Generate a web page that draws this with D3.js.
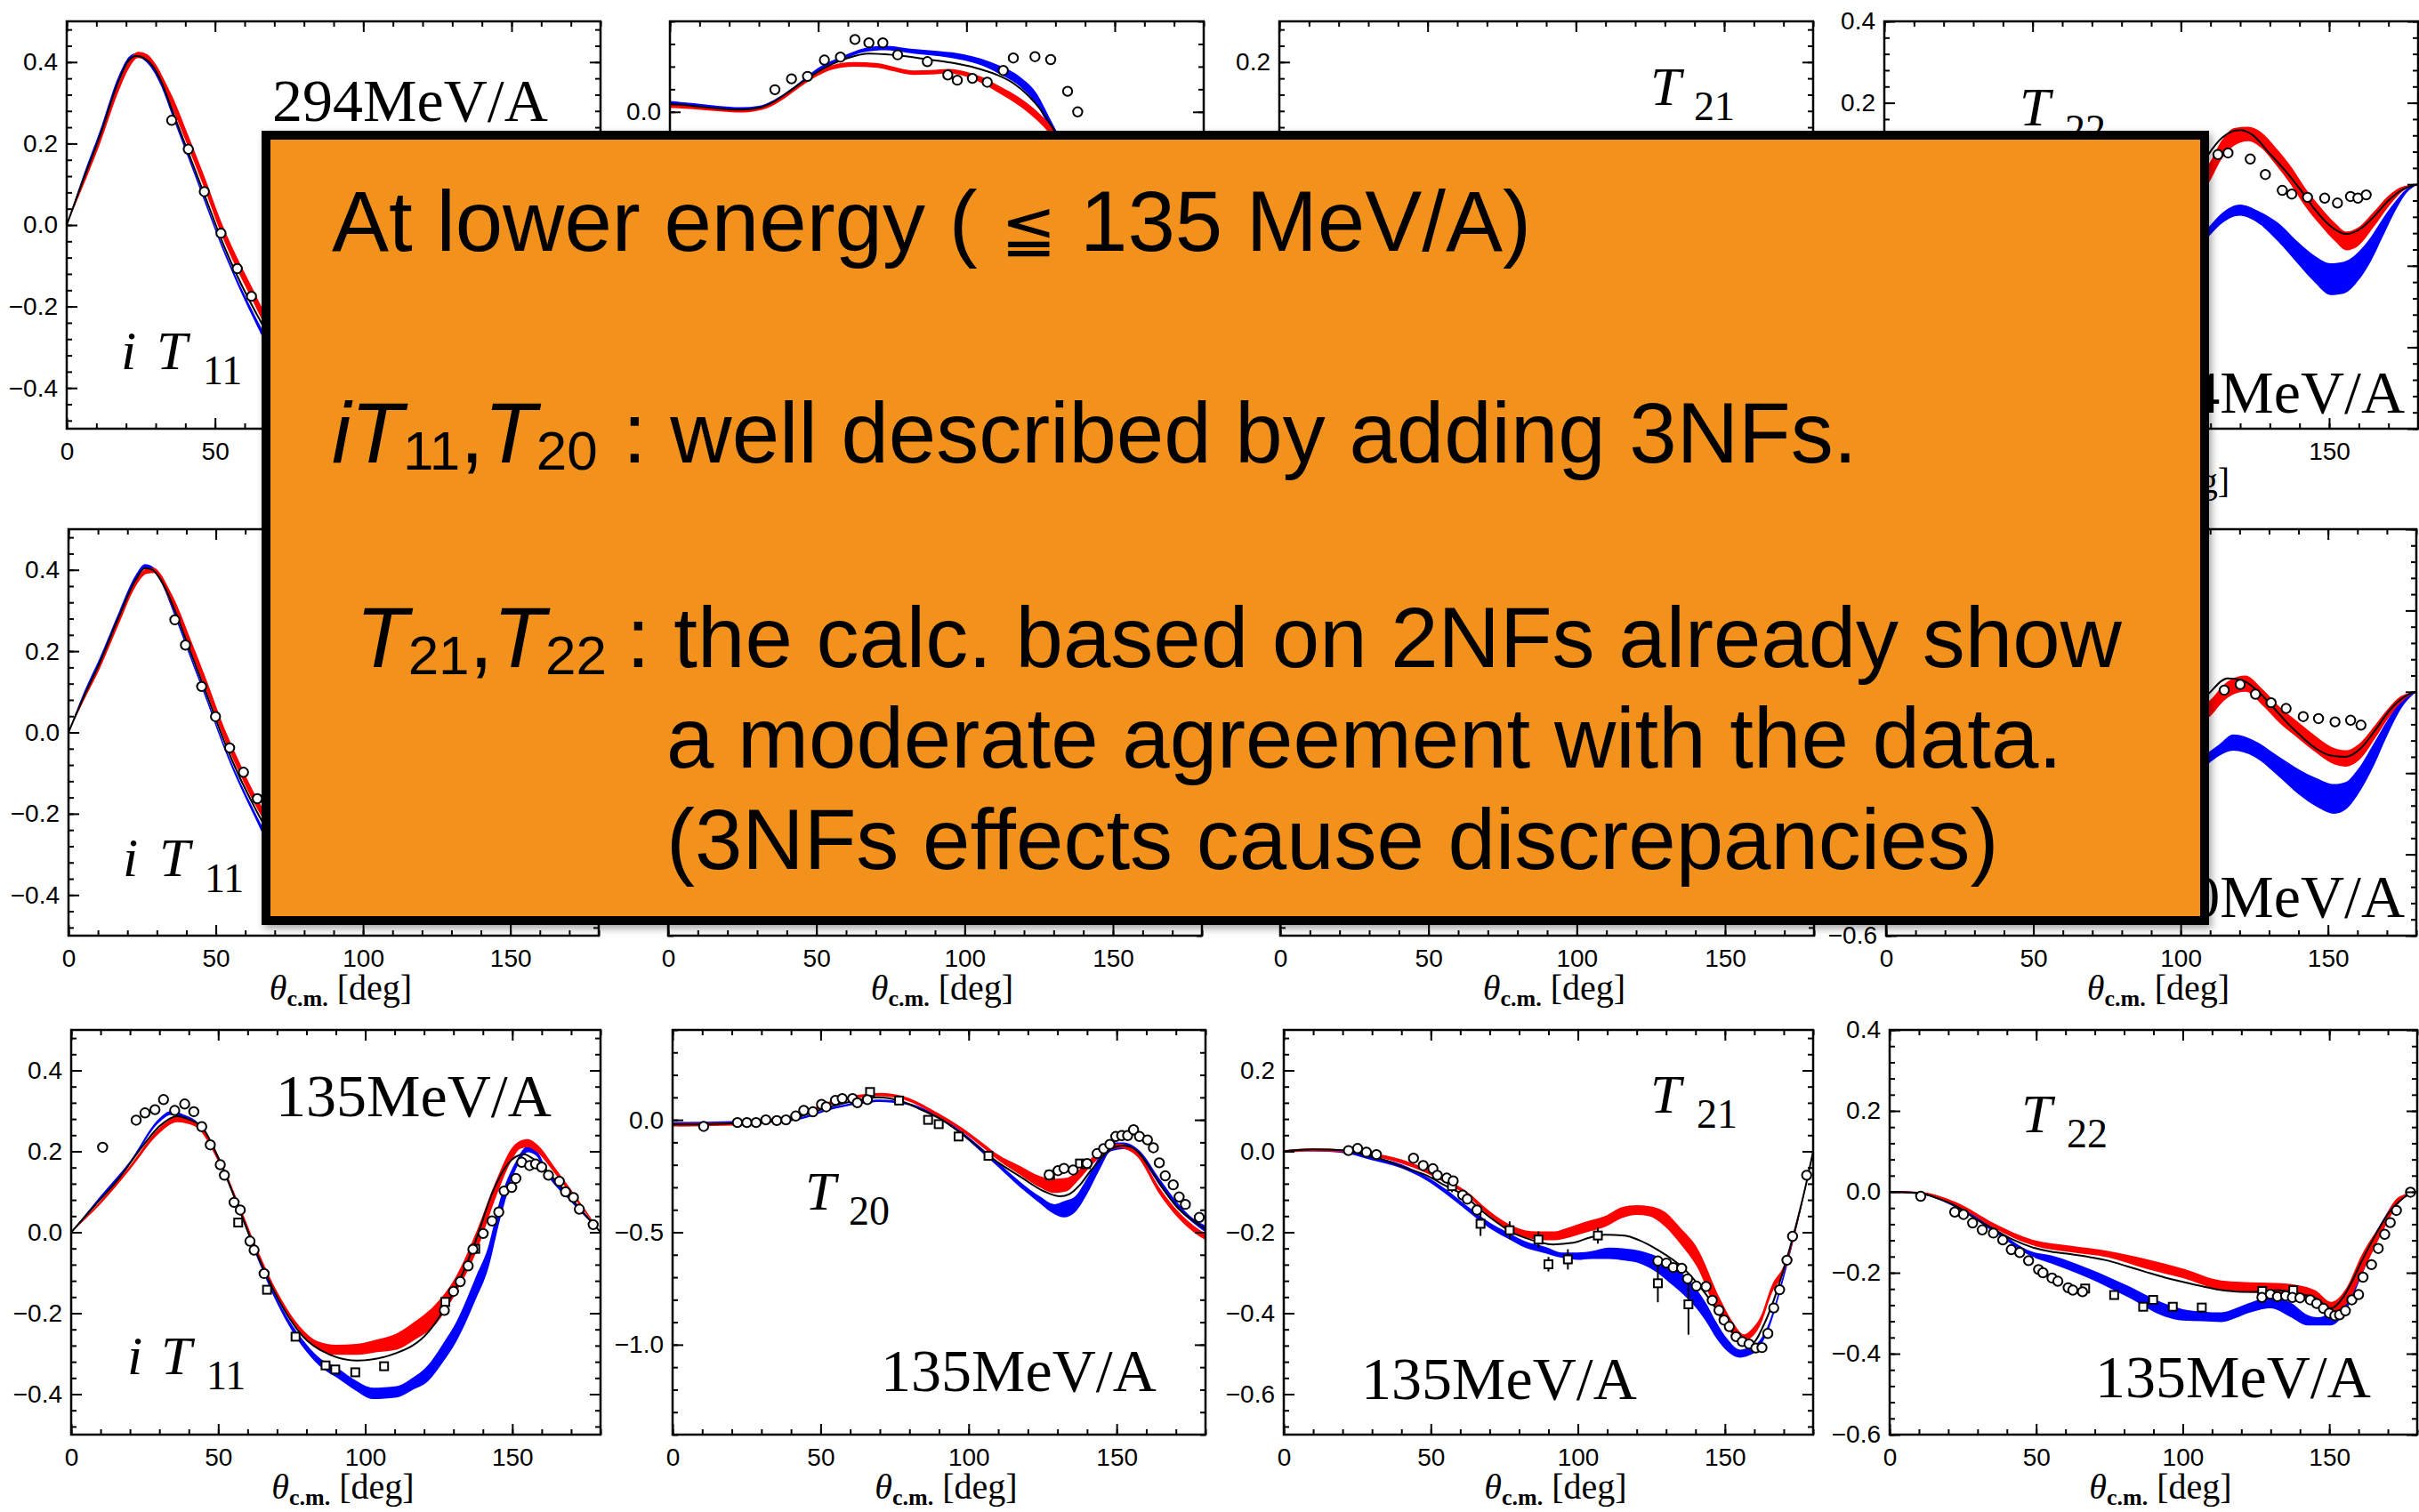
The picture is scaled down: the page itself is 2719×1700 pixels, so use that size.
<!DOCTYPE html>
<html>
<head>
<meta charset="utf-8">
<script src="https://cdnjs.cloudflare.com/ajax/libs/d3/7.8.5/d3.min.js"></script>
<style>
  body { margin: 0; background: #fff; }
  svg { display: block; }
</style>
</head>
<body>
<svg id="fig" width="2719" height="1700"></svg>
<script>
// ---- data: [theta, value] for lines/points, [theta, lo, hi] for bands, [theta, value, err] for squares ----

// 294 MeV/A
var it11_294_nn = [[0,0],[5.5,0.11],[11,0.215],[17.6,0.355],[21,0.405],[23.5,0.415],[26,0.41],[29,0.39],[32,0.35],[35.4,0.285],[38,0.235],[41,0.178],[46.4,0.075],[50,0.005],[52,-0.033],[57.5,-0.125],[62.3,-0.195],[66,-0.245],[70,-0.3],[75,-0.35]];
var it11_294_red = [[0,0,0],[5.5,0.095,0.108],[11,0.195,0.212],[17.6,0.33,0.35],[21,0.385,0.402],[24,0.41,0.425],[27,0.405,0.42],[30,0.375,0.395],[33,0.33,0.355],[36,0.28,0.31],[41,0.19,0.22],[46.4,0.09,0.12],[52,-0.02,0.01],[57.5,-0.11,-0.08],[62.3,-0.18,-0.15],[66,-0.235,-0.205],[70,-0.29,-0.26],[75,-0.34,-0.31]];
var it11_294_blue = [[0,0,0],[5.5,0.11,0.12],[11,0.215,0.228],[17.6,0.355,0.368],[21,0.403,0.413],[23.5,0.412,0.422],[26,0.405,0.414],[29,0.38,0.39],[32,0.338,0.348],[35.4,0.272,0.282],[41,0.163,0.173],[46.4,0.058,0.068],[52,-0.05,-0.04],[57.5,-0.145,-0.133],[62.3,-0.22,-0.205],[66,-0.275,-0.258],[70,-0.33,-0.31],[75,-0.38,-0.36]];
var it11_294_circ = [[35.4,0.257],[41,0.186],[46.4,0.082],[52,-0.02],[57.5,-0.107],[62.3,-0.175]];

var t20_294_nn = [[0,0.035],[8,0.026],[16,0.015],[24,0.01],[30,0.018],[35,0.045],[40,0.088],[45,0.135],[50,0.178],[55,0.213],[60,0.238],[67,0.258],[75,0.252],[87,0.232],[95,0.217],[103,0.195],[110,0.165],[116,0.125],[121,0.07],[125,0.01],[129,-0.07],[133,-0.16],[137,-0.26]];
var t20_294_blue = [[0,0.032,0.048],[8,0.024,0.038],[16,0.012,0.027],[24,0.006,0.021],[30,0.012,0.027],[35,0.036,0.052],[40,0.078,0.094],[44,0.118,0.134],[50,0.178,0.195],[58,0.228,0.245],[66,0.265,0.283],[72.6,0.272,0.292],[82,0.258,0.278],[91,0.246,0.268],[99,0.228,0.255],[105,0.205,0.235],[111,0.168,0.205],[118,0.112,0.155],[124,0.025,0.075],[128,-0.075,-0.025],[132,-0.18,-0.125],[137,-0.3,-0.24]];
var t20_294_red = [[0,0.018,0.034],[8,0.012,0.027],[16,0.003,0.018],[24,-0.003,0.012],[30,0.006,0.021],[35,0.03,0.046],[40,0.072,0.088],[44,0.11,0.126],[50,0.16,0.178],[55,0.188,0.207],[62,0.2,0.22],[70,0.195,0.215],[76,0.178,0.198],[82,0.163,0.183],[88,0.165,0.185],[94,0.17,0.19],[100,0.155,0.177],[105,0.128,0.155],[111,0.083,0.115],[118,0.025,0.062],[124,-0.04,0.0],[128,-0.095,-0.055],[132,-0.165,-0.125],[137,-0.26,-0.215]];
var t20_294_circ = [[35.4,0.098],[41,0.146],[46.4,0.157],[52.1,0.229],[57.5,0.242],[62.4,0.32],[67.1,0.305],[71.8,0.305],[76.8,0.252],[86.8,0.222],[93.7,0.163],[96.9,0.14],[102,0.148],[107,0.131],[112.4,0.183],[115.8,0.238],[123.1,0.244],[128.4,0.231],[134.1,0.091],[137.5,0.0]];

var t22_294_nn = [[100,-0.035],[105,0.02],[109,0.07],[114,0.115],[119.9,0.133],[124,0.122],[130,0.075],[135,0.035],[140,-0.01],[145,-0.06],[150,-0.1],[155.8,-0.122],[160,-0.112],[165,-0.08],[170,-0.04],[175,-0.012],[180,0]];
var t22_294_red = [[100,-0.06,-0.02],[105,-0.02,0.02],[109,0.0,0.045],[114,0.065,0.11],[118,0.095,0.138],[122.7,0.106,0.141],[127,0.09,0.128],[132,0.048,0.09],[137,0.0,0.045],[142,-0.055,-0.01],[147,-0.1,-0.055],[152,-0.14,-0.095],[155.8,-0.162,-0.116],[160,-0.15,-0.105],[165,-0.105,-0.068],[170,-0.055,-0.028],[175,-0.016,-0.005],[180,0,0]];
var t22_294_blue = [[100,-0.2,-0.175],[105,-0.16,-0.138],[109,-0.131,-0.108],[114,-0.095,-0.07],[119.9,-0.077,-0.05],[126,-0.095,-0.065],[132.7,-0.14,-0.094],[140,-0.2,-0.145],[145,-0.24,-0.175],[150.5,-0.272,-0.194],[155,-0.268,-0.19],[160,-0.235,-0.165],[164,-0.19,-0.13],[168,-0.13,-0.085],[172,-0.07,-0.045],[176,-0.022,-0.012],[180,0,0]];
var t22_294_circ = [[112.5,0.073],[115.9,0.077],[123.4,0.062],[128.5,0.024],[134.2,-0.015],[137.4,-0.024],[142.7,-0.032],[148.5,-0.034],[152.8,-0.046],[157.2,-0.03],[159.7,-0.034],[162.5,-0.026]];

// 250 MeV/A
var it11_250_nn = [[0,0],[5,0.085],[10.5,0.17],[17.3,0.288],[22.7,0.374],[26,0.404],[28.5,0.4],[30.7,0.382],[33.5,0.345],[36.1,0.3],[41.5,0.196],[46.9,0.094],[52.3,-0.012],[57.7,-0.104],[63.1,-0.183],[65.8,-0.22],[70,-0.27],[75,-0.32]];
var it11_250_red = [[0,0,0],[5,0.075,0.085],[10.5,0.155,0.168],[17.3,0.27,0.285],[22.7,0.358,0.372],[26.5,0.39,0.403],[29,0.392,0.405],[31.5,0.37,0.388],[34,0.33,0.355],[36.1,0.295,0.325],[41.5,0.2,0.228],[46.9,0.1,0.128],[52.3,-0.005,0.022],[57.7,-0.095,-0.068],[63.1,-0.175,-0.15],[65.8,-0.21,-0.185],[70,-0.26,-0.235],[75,-0.31,-0.285]];
var it11_250_blue = [[0,0,0],[5,0.087,0.095],[10.5,0.172,0.182],[17.3,0.29,0.3],[22.7,0.375,0.386],[26,0.404,0.414],[28.5,0.398,0.408],[30.7,0.378,0.388],[36.1,0.285,0.295],[41.5,0.18,0.19],[46.9,0.077,0.087],[52.3,-0.03,-0.02],[57.7,-0.124,-0.112],[63.1,-0.207,-0.193],[65.8,-0.248,-0.232],[70,-0.3,-0.282],[75,-0.35,-0.33]];
var it11_250_circ = [[36.1,0.277],[39.7,0.215],[45.2,0.113],[49.9,0.039],[54.7,-0.038],[59.4,-0.098],[64.1,-0.163]];

var t22_250_nn = [[100,-0.075],[105,-0.04],[109.6,-0.004],[115.9,0.033],[121,0.028],[126,0.003],[131,-0.035],[136,-0.075],[141,-0.11],[146,-0.14],[151,-0.157],[156,-0.16],[161,-0.14],[166,-0.095],[171,-0.045],[176,-0.012],[180,0]];
var t22_250_red = [[100,-0.1,-0.06],[105,-0.08,-0.038],[109.6,-0.063,-0.023],[115,-0.02,0.02],[121.9,0.0,0.04],[128,-0.035,0.005],[134,-0.08,-0.04],[139.8,-0.114,-0.074],[146,-0.15,-0.11],[151,-0.175,-0.135],[156,-0.184,-0.144],[161,-0.165,-0.125],[166,-0.115,-0.082],[170,-0.07,-0.045],[175,-0.025,-0.01],[180,0,0]];
var t22_250_blue = [[100,-0.23,-0.2],[105,-0.2,-0.172],[109.6,-0.176,-0.148],[113,-0.158,-0.13],[117.9,-0.145,-0.105],[125,-0.16,-0.12],[133.5,-0.21,-0.16],[140,-0.252,-0.19],[146,-0.282,-0.212],[152.2,-0.3,-0.227],[156,-0.29,-0.222],[160,-0.255,-0.192],[165.7,-0.18,-0.125],[170,-0.11,-0.072],[175,-0.04,-0.022],[180,0,0]];
var t22_250_circ = [[114.8,0.004],[120.2,0.018],[125.4,-0.006],[130.7,-0.027],[135.8,-0.041],[141.6,-0.061],[146.8,-0.066],[152.4,-0.074],[157.7,-0.07],[161.2,-0.082]];

// 135 MeV/A
var it11_135_nn = [[0,0],[8,0.066],[16,0.131],[24,0.21],[30,0.262],[36,0.287],[40,0.279],[44.6,0.259],[51.4,0.161],[56.8,0.063],[63.5,-0.059],[70.3,-0.164],[78.4,-0.254],[87.8,-0.302],[97.2,-0.317],[110.7,-0.298],[121.5,-0.246],[126.9,-0.189],[132.3,-0.115],[137.7,-0.018],[143.1,0.096],[148.5,0.169],[153.9,0.193],[157.9,0.177],[164.7,0.128],[171.4,0.072],[180,0]];
var it11_135_red = [[0,0,0],[10,0.07,0.078],[20,0.155,0.165],[30,0.245,0.258],[36,0.272,0.285],[42,0.262,0.275],[50,0.175,0.19],[56.8,0.06,0.075],[63.5,-0.06,-0.045],[70.3,-0.165,-0.15],[78.4,-0.255,-0.238],[84,-0.29,-0.27],[90,-0.303,-0.278],[97,-0.303,-0.276],[104,-0.296,-0.265],[110.7,-0.29,-0.25],[117,-0.265,-0.22],[124.2,-0.225,-0.175],[131,-0.148,-0.107],[137.7,-0.05,0.0],[144.5,0.088,0.128],[150,0.18,0.21],[152.6,0.206,0.226],[155.3,0.21,0.23],[158,0.2,0.22],[165,0.14,0.155],[172,0.075,0.085],[180,0,0]];
var it11_135_blue = [[0,0,0],[10,0.083,0.09],[20,0.168,0.176],[30,0.272,0.282],[34,0.29,0.3],[38,0.282,0.292],[44,0.255,0.265],[51,0.163,0.173],[57,0.055,0.065],[63.5,-0.068,-0.058],[70.3,-0.18,-0.168],[78.4,-0.28,-0.262],[84.4,-0.33,-0.31],[90.5,-0.36,-0.335],[96.5,-0.39,-0.365],[102.6,-0.412,-0.384],[110.7,-0.408,-0.38],[116,-0.39,-0.36],[121.5,-0.367,-0.327],[126,-0.325,-0.28],[131,-0.27,-0.221],[137.7,-0.164,-0.108],[141.8,-0.09,-0.036],[145.8,0.03,0.08],[151.2,0.155,0.175],[155.3,0.198,0.214],[158,0.19,0.205],[162,0.14,0.152],[170,0.075,0.085],[180,0,0]];
var it11_135_circ = [[10.7,0.21],[22.1,0.277],[25.1,0.295],[28.5,0.303],[31.4,0.328],[35.2,0.301],[38.6,0.317],[41.7,0.298],[44.4,0.261],[47.3,0.216],[50.7,0.167],[52.1,0.141],[55.4,0.074],[57.5,0.055],[60.8,-0.022],[62.2,-0.044],[65.6,-0.102],[126.9,-0.193],[130,-0.146],[132.3,-0.122],[135,-0.083],[136.6,-0.042],[140.1,-0.003],[143.1,0.028],[145.4,0.05],[147.2,0.102],[149.8,0.111],[151.2,0.133],[153.2,0.173],[155.9,0.165],[157.9,0.169],[160,0.161],[162.3,0.141],[166,0.126],[168.1,0.1],[170.8,0.086],[172.8,0.057],[177.5,0.019]];
var it11_135_sq = [[56.8,0.024,0],[66.6,-0.142,0],[76.3,-0.258,0],[86.5,-0.329,0],[89.8,-0.339,0],[96.6,-0.346,0],[106.4,-0.331,0],[127.2,-0.172,0],[137.4,-0.041,0]];

var t20_135_nn = [[0,-0.02],[10,-0.02],[20,-0.015],[30,-0.01],[36.9,-0.004],[43,0.015],[50.3,0.047],[57,0.072],[63.8,0.09],[69.1,0.1],[77.2,0.083],[84,0.045],[90.6,0.003],[97,-0.055],[104,-0.128],[110,-0.19],[117.4,-0.252],[125.5,-0.318],[130.9,-0.34],[134,-0.33],[137.6,-0.289],[141,-0.23],[144.3,-0.179],[148,-0.13],[152.3,-0.114],[155,-0.122],[157.7,-0.15],[161,-0.21],[164.4,-0.281],[171.1,-0.398],[176,-0.45],[180,-0.485]];
var t20_135_red = [[0,-0.03,-0.015],[20,-0.025,-0.01],[40,0.0,0.015],[55,0.075,0.09],[65,0.1,0.115],[70,0.105,0.12],[78,0.09,0.105],[90,0.012,0.028],[97,-0.045,-0.028],[104,-0.115,-0.095],[110,-0.18,-0.155],[117.4,-0.245,-0.205],[124,-0.3,-0.25],[129,-0.325,-0.262],[133,-0.318,-0.258],[137,-0.27,-0.225],[141,-0.21,-0.175],[146,-0.15,-0.125],[151,-0.125,-0.105],[153,-0.13,-0.11],[157,-0.165,-0.14],[164.4,-0.33,-0.3],[171,-0.44,-0.41],[176,-0.5,-0.47],[180,-0.535,-0.505]];
var t20_135_blue = [[0,-0.02,-0.01],[20,-0.015,-0.005],[40,-0.005,0.005],[55,0.05,0.06],[65,0.075,0.085],[70,0.08,0.09],[78,0.07,0.08],[90,0.005,0.015],[97,-0.06,-0.045],[104,-0.14,-0.12],[110,-0.21,-0.19],[117.4,-0.3,-0.275],[124,-0.37,-0.34],[129,-0.42,-0.375],[132.2,-0.434,-0.362],[136,-0.41,-0.34],[140,-0.33,-0.26],[144.3,-0.22,-0.16],[148,-0.14,-0.1],[152.3,-0.13,-0.1],[155,-0.14,-0.11],[158,-0.17,-0.14],[164.4,-0.29,-0.26],[171,-0.4,-0.375],[176,-0.46,-0.44],[180,-0.5,-0.47]];
var t20_135_circ = [[10.5,-0.029],[21.9,-0.012],[25.1,-0.012],[28.2,-0.012],[31.5,0],[35.2,-0.003],[38.3,0],[41.6,0.017],[44.3,0.042],[47.4,0.036],[50.3,0.069],[51.9,0.058],[55,0.087],[57.3,0.095],[60.8,0.095],[62.4,0.076],[65.8,0.09],[127.2,-0.245],[130.2,-0.226],[132.2,-0.216],[135.3,-0.223],[140,-0.194],[143.4,-0.15],[145.6,-0.128],[147.7,-0.109],[149.7,-0.074],[151.7,-0.07],[153.7,-0.07],[155.7,-0.044],[157.7,-0.074],[160.4,-0.089],[162.4,-0.124],[164.4,-0.191],[166.4,-0.249],[169.1,-0.289],[171.1,-0.343],[173.2,-0.376],[177.9,-0.434]];
var t20_135_sq = [[66.7,0.124,0],[76.5,0.086,0],[86.3,0,0],[89.9,-0.019,0],[96.6,-0.074,0],[106.7,-0.16,0],[127.5,-0.245,0],[137.6,-0.194,0],[139.6,-0.197,0]];

var t21_135_nn = [[0,0],[10,0.005],[21.4,0.002],[28,-0.01],[34.9,-0.023],[41,-0.04],[48.4,-0.059],[55,-0.085],[61.9,-0.112],[67,-0.145],[72.7,-0.177],[77,-0.198],[82.2,-0.214],[91.6,-0.23],[98.4,-0.226],[104,-0.213],[109.2,-0.206],[115.9,-0.208],[121,-0.22],[126.8,-0.242],[136.2,-0.291],[143,-0.348],[149.7,-0.417],[155.1,-0.466],[159.2,-0.474],[163.2,-0.429],[166.5,-0.37],[170,-0.291],[174.1,-0.185],[177,-0.1],[180,0]];
var t21_135_red = [[0,-0.003,0.003],[10,0.0,0.007],[21,-0.002,0.004],[30,-0.012,-0.004],[40,-0.03,-0.02],[48,-0.052,-0.042],[55,-0.078,-0.068],[62,-0.108,-0.098],[70,-0.16,-0.148],[78,-0.2,-0.185],[86,-0.218,-0.198],[92,-0.22,-0.198],[96,-0.215,-0.19],[103,-0.2,-0.173],[109.2,-0.187,-0.16],[115,-0.165,-0.138],[120,-0.157,-0.133],[124,-0.16,-0.135],[129.5,-0.185,-0.149],[135,-0.23,-0.19],[140.3,-0.283,-0.235],[148.4,-0.413,-0.365],[153,-0.455,-0.425],[156.5,-0.468,-0.452],[159,-0.46,-0.44],[162,-0.43,-0.41],[166,-0.35,-0.33],[170,-0.3,-0.282],[175,-0.17,-0.155],[180,0,0]];
var t21_135_blue = [[0,-0.003,0.003],[10,0.0,0.006],[21,-0.005,0.001],[30,-0.022,-0.014],[40,-0.042,-0.032],[48,-0.07,-0.06],[55,-0.105,-0.093],[62,-0.145,-0.133],[70,-0.19,-0.176],[76,-0.215,-0.2],[82,-0.238,-0.222],[89,-0.252,-0.236],[95,-0.264,-0.25],[100,-0.268,-0.25],[105,-0.266,-0.246],[110.5,-0.266,-0.238],[116,-0.27,-0.24],[121.4,-0.278,-0.246],[127,-0.3,-0.26],[132.2,-0.331,-0.283],[136,-0.355,-0.305],[140.3,-0.388,-0.34],[144,-0.425,-0.38],[147,-0.461,-0.421],[151,-0.495,-0.465],[155.1,-0.51,-0.49],[158,-0.505,-0.485],[160.5,-0.495,-0.477],[164.6,-0.445,-0.43],[170,-0.315,-0.3],[175,-0.17,-0.16],[180,0,0]];
var t21_135_circ = [[22,0.002],[25.1,0.007],[28.1,-0.002],[31.5,-0.008],[44.1,-0.017],[47.4,-0.035],[50.7,-0.043],[52.2,-0.059],[55.4,-0.066],[57.6,-0.073],[60.8,-0.108],[62.4,-0.118],[65.7,-0.145],[127.2,-0.271],[130.1,-0.276],[132.4,-0.287],[135.3,-0.289],[137.3,-0.315],[140.3,-0.333],[143.6,-0.334],[145.7,-0.368],[148,-0.393],[149.7,-0.417],[151.5,-0.433],[153.8,-0.458],[155.9,-0.47],[158.2,-0.476],[160.5,-0.486],[162.6,-0.485],[164.6,-0.45],[166.6,-0.387],[168.6,-0.342],[171.1,-0.269],[173,-0.21],[177.8,-0.059]];
var t21_135_sq = [[57.2,-0.086,0.015],[66.9,-0.179,0.03],[76.8,-0.195,0.022],[86.6,-0.218,0.02],[90,-0.279,0.018],[96.6,-0.267,0.025],[106.8,-0.208,0.02],[127.2,-0.326,0.047],[137.6,-0.378,0.075]];

var t22_135_nn = [[0,0],[9.9,-0.003],[16,-0.015],[22.8,-0.036],[29,-0.065],[35.7,-0.093],[42,-0.118],[48.6,-0.137],[55,-0.148],[61.5,-0.154],[68,-0.161],[74.5,-0.17],[81,-0.184],[87.4,-0.198],[94,-0.212],[100.3,-0.223],[107,-0.234],[113.2,-0.243],[120,-0.247],[126.1,-0.247],[132.5,-0.243],[139,-0.251],[145.4,-0.263],[150.6,-0.288],[154.5,-0.263],[157.5,-0.225],[160.9,-0.174],[164,-0.13],[167.4,-0.085],[170.5,-0.05],[173.8,-0.024],[177,-0.007],[180,0]];
var t22_135_red = [[0,-0.002,0.002],[10,-0.005,0.0],[22.8,-0.034,-0.026],[35.7,-0.09,-0.078],[48.6,-0.132,-0.118],[61.5,-0.149,-0.133],[74.5,-0.162,-0.146],[87.4,-0.19,-0.166],[100.3,-0.214,-0.19],[113.2,-0.243,-0.219],[126.1,-0.25,-0.224],[132,-0.249,-0.225],[139,-0.256,-0.23],[145.4,-0.272,-0.244],[150.6,-0.296,-0.272],[155.7,-0.279,-0.239],[160.9,-0.206,-0.158],[167.4,-0.11,-0.082],[173.8,-0.028,-0.012],[180,0,0]];
var t22_135_blue = [[0,-0.002,0.002],[10,-0.006,-0.001],[22.8,-0.04,-0.032],[35.7,-0.1,-0.09],[48.6,-0.16,-0.148],[55.1,-0.177,-0.157],[68,-0.214,-0.19],[80.9,-0.259,-0.231],[93.8,-0.308,-0.276],[100,-0.318,-0.29],[106.7,-0.32,-0.296],[113.2,-0.322,-0.298],[118,-0.312,-0.288],[122.2,-0.3,-0.276],[130,-0.288,-0.262],[136.4,-0.308,-0.272],[142.8,-0.33,-0.305],[146,-0.33,-0.31],[150.6,-0.33,-0.296],[155.7,-0.294,-0.246],[160.9,-0.21,-0.165],[167.4,-0.1,-0.08],[173.8,-0.026,-0.014],[180,0,0]];
var t22_135_circ = [[10.6,-0.011],[22.2,-0.05],[25.2,-0.056],[28.3,-0.077],[31.6,-0.094],[35.4,-0.102],[38.6,-0.119],[41.5,-0.143],[44.4,-0.15],[47.4,-0.17],[50.8,-0.192],[52.3,-0.2],[55.4,-0.213],[57.4,-0.221],[60.9,-0.237],[62.5,-0.243],[65.8,-0.247],[127,-0.261],[129.9,-0.253],[132.3,-0.259],[135.1,-0.257],[137.4,-0.261],[140,-0.262],[143.5,-0.267],[145.7,-0.276],[148,-0.288],[150,-0.3],[151.9,-0.306],[153.5,-0.304],[155.5,-0.294],[157.7,-0.267],[160,-0.254],[161.5,-0.211],[164.4,-0.18],[166.7,-0.14],[168.9,-0.105],[170.8,-0.076],[172.9,-0.046],[177.7,-0.001]];
var t22_135_sq = [[66.7,-0.239,0],[76.6,-0.255,0],[86.5,-0.284,0],[89.9,-0.267,0],[96.6,-0.284,0],[106.5,-0.286,0],[127.1,-0.245,0],[137.7,-0.243,0]];

var xMajor = [0, 50, 100, 150];

// ---- table for drawing ----
var series = {
  it11_294: {nn: it11_294_nn, red: it11_294_red, blue: it11_294_blue, circ: it11_294_circ},
  t20_294:  {nn: t20_294_nn, red: t20_294_red, blue: t20_294_blue, circ: t20_294_circ},
  t22_294:  {nn: t22_294_nn, red: t22_294_red, blue: t22_294_blue, circ: t22_294_circ},
  it11_250: {nn: it11_250_nn, red: it11_250_red, blue: it11_250_blue, circ: it11_250_circ},
  t22_250:  {nn: t22_250_nn, red: t22_250_red, blue: t22_250_blue, circ: t22_250_circ},
  it11_135: {nn: it11_135_nn, red: it11_135_red, blue: it11_135_blue, circ: it11_135_circ, sq: it11_135_sq},
  t20_135:  {nn: t20_135_nn, red: t20_135_red, blue: t20_135_blue, circ: t20_135_circ, sq: t20_135_sq},
  t21_135:  {nn: t21_135_nn, red: t21_135_red, blue: t21_135_blue, circ: t21_135_circ, sq: t21_135_sq},
  t22_135:  {nn: t22_135_nn, red: t22_135_red, blue: t22_135_blue, circ: t22_135_circ, sq: t22_135_sq}
};

// panel frames (pixels)
var IT = {ydom: [-0.5, 0.5], major: 0.2, minor: 0.04};
var T20 = {ydom: [-1.4, 0.4], major: 0.5, minor: 0.1};
var T21 = {ydom: [-0.7, 0.3], major: 0.2, minor: 0.04};
var T22 = {ydom: [-0.6, 0.4], major: 0.2, minor: 0.04};
var layout = [
  {key: "it11_294", x0: 75,   x1: 675,  y0: 24,   y1: 482,  ax: IT},
  {key: "t20_294",  x0: 753,  x1: 1353, y0: 24,   y1: 482,  ax: T20},
  {key: "t21_294",  x0: 1438, x1: 2038, y0: 24,   y1: 482,  ax: T21},
  {key: "t22_294",  x0: 2118, x1: 2718, y0: 24,   y1: 482,  ax: T22},
  {key: "it11_250", x0: 77,   x1: 673,  y0: 595,  y1: 1052, ax: IT},
  {key: "t20_250",  x0: 751,  x1: 1351, y0: 595,  y1: 1052, ax: T20},
  {key: "t21_250",  x0: 1439, x1: 2039, y0: 595,  y1: 1052, ax: T21},
  {key: "t22_250",  x0: 2120, x1: 2716, y0: 595,  y1: 1052, ax: T22},
  {key: "it11_135", x0: 80,   x1: 675,  y0: 1158, y1: 1613, ax: IT},
  {key: "t20_135",  x0: 756,  x1: 1355, y0: 1158, y1: 1613, ax: T20},
  {key: "t21_135",  x0: 1443, x1: 2038, y0: 1158, y1: 1613, ax: T21},
  {key: "t22_135",  x0: 2124, x1: 2717, y0: 1158, y1: 1613, ax: T22}
];

// labels inside panels
var labels = [
  {i: 136, tx: 176, ty: 415, sub: "11", sx: 228, sy: 432},
  {tx: 1855, ty: 118, sub: "21", sx: 1904, sy: 135},
  {tx: 2270, ty: 141, sub: "22", sx: 2321, sy: 161},
  {i: 138, tx: 179, ty: 985, sub: "11", sx: 230, sy: 1003},
  {i: 143, tx: 181, ty: 1545, sub: "11", sx: 232, sy: 1562},
  {tx: 905, ty: 1360, sub: "20", sx: 954, sy: 1377},
  {tx: 1855, ty: 1251, sub: "21", sx: 1907, sy: 1268},
  {tx: 2272, ty: 1273, sub: "22", sx: 2323, sy: 1290}
];
var energies = [
  {t: "294MeV/A", x: 306, y: 136, a: "start"},
  {t: "294MeV/A", x: 2703, y: 464, a: "end"},
  {t: "250MeV/A", x: 2703, y: 1031, a: "end"},
  {t: "135MeV/A", x: 310, y: 1255, a: "start"},
  {t: "135MeV/A", x: 990, y: 1564, a: "start"},
  {t: "135MeV/A", x: 1530, y: 1573, a: "start"},
  {t: "135MeV/A", x: 2355, y: 1571, a: "start"}
];

var SERIF = "'Liberation Serif', 'Times New Roman', serif";
var SANS = "'Liberation Sans', Arial, 'DejaVu Sans', sans-serif";

var svg = d3.select("#fig");
var defs = svg.append("defs");
var sh = defs.append("filter").attr("id", "shadow")
    .attr("x", "-2%").attr("y", "-2%").attr("width", "104%").attr("height", "106%");
sh.append("feDropShadow").attr("dx", 3).attr("dy", 4).attr("stdDeviation", 4)
    .attr("flood-color", "#000").attr("flood-opacity", 0.35);

svg.append("rect").attr("width", 2719).attr("height", 1700).attr("fill", "#fff");

function stepTicks(dom, step) {
  var out = [];
  var n0 = Math.ceil(dom[0] / step - 1e-6), n1 = Math.floor(dom[1] / step + 1e-6);
  for (var k = n0; k <= n1; k++) out.push(+(k * step).toFixed(4));
  return out;
}
function fmtY(d) {
  return (d < -1e-9 ? "\u2212" : "") + Math.abs(d).toFixed(1);
}

layout.forEach(function (p) {
  var w = p.x1 - p.x0, h = p.y1 - p.y0;
  var x = d3.scaleLinear().domain([0, 180]).range([0, w]);
  var y = d3.scaleLinear().domain(p.ax.ydom).range([h, 0]);
  var g = svg.append("g").attr("transform", "translate(" + p.x0 + "," + p.y0 + ")");

  defs.append("clipPath").attr("id", "clip_" + p.key)
      .append("rect").attr("width", w).attr("height", h);
  var plot = g.append("g").attr("clip-path", "url(#clip_" + p.key + ")");

  var s = series[p.key] || {};
  var area = d3.area().x(function (d) { return x(d[0]); })
      .y0(function (d) { return y(d[1]); })
      .y1(function (d) { return y(d[2]); })
      .curve(d3.curveMonotoneX);
  var line = d3.line().x(function (d) { return x(d[0]); })
      .y(function (d) { return y(d[1]); })
      .curve(d3.curveMonotoneX);

  if (s.blue) plot.append("path").attr("d", area(s.blue)).attr("fill", "#0000ff");
  if (s.red) plot.append("path").attr("d", area(s.red)).attr("fill", "#ff0000");
  if (s.nn) plot.append("path").attr("d", line(s.nn))
      .attr("fill", "none").attr("stroke", "#000").attr("stroke-width", 2);

  if (s.sq) {
    plot.selectAll(".err").data(s.sq.filter(function (d) { return d[2] > 0; }))
      .enter().append("line")
      .attr("x1", function (d) { return x(d[0]); })
      .attr("x2", function (d) { return x(d[0]); })
      .attr("y1", function (d) { return y(d[1] - d[2]); })
      .attr("y2", function (d) { return y(d[1] + d[2]); })
      .attr("stroke", "#000").attr("stroke-width", 2);
    plot.selectAll(".sq").data(s.sq).enter().append("rect")
      .attr("x", function (d) { return x(d[0]) - 4.5; })
      .attr("y", function (d) { return y(d[1]) - 4.5; })
      .attr("width", 9).attr("height", 9)
      .attr("fill", "#fff").attr("stroke", "#000").attr("stroke-width", 2);
  }
  if (s.circ) {
    plot.selectAll(".pt").data(s.circ).enter().append("circle")
      .attr("cx", function (d) { return x(d[0]); })
      .attr("cy", function (d) { return y(d[1]); })
      .attr("r", 5.2)
      .attr("fill", "#fff").attr("stroke", "#000").attr("stroke-width", 2);
  }

  // ticks on all four sides, pointing inward
  var yMaj = stepTicks(p.ax.ydom, p.ax.major), yMin = stepTicks(p.ax.ydom, p.ax.minor);
  var xMin = d3.range(0, 181, 10);
  function tk(sel, axis) {
    sel.call(axis);
    sel.select(".domain").remove();
    sel.selectAll(".tick line").attr("stroke", "#000").attr("stroke-width", 2);
    return sel;
  }
  tk(g.append("g").attr("transform", "translate(0," + h + ")"),
     d3.axisBottom(x).tickValues(xMin).tickSizeInner(-6).tickSizeOuter(0).tickFormat(""));
  tk(g.append("g"), d3.axisTop(x).tickValues(xMin).tickSizeInner(-6).tickSizeOuter(0).tickFormat(""));
  tk(g.append("g"), d3.axisTop(x).tickValues(xMajor).tickSizeInner(-12).tickSizeOuter(0).tickFormat(""));
  tk(g.append("g"), d3.axisLeft(y).tickValues(yMin).tickSizeInner(-6).tickSizeOuter(0).tickFormat(""));
  tk(g.append("g").attr("transform", "translate(" + w + ",0)"),
     d3.axisRight(y).tickValues(yMin).tickSizeInner(-6).tickSizeOuter(0).tickFormat(""));
  tk(g.append("g").attr("transform", "translate(" + w + ",0)"),
     d3.axisRight(y).tickValues(yMaj).tickSizeInner(-12).tickSizeOuter(0).tickFormat(""));

  var xa = tk(g.append("g").attr("transform", "translate(0," + h + ")"),
     d3.axisBottom(x).tickValues(xMajor).tickSizeInner(-12).tickSizeOuter(0).tickPadding(15).tickFormat(d3.format("d")));
  var ya = tk(g.append("g"),
     d3.axisLeft(y).tickValues(yMaj).tickSizeInner(-12).tickSizeOuter(0).tickPadding(10).tickFormat(fmtY));
  [xa, ya].forEach(function (a) {
    a.attr("font-family", SANS).attr("font-size", 28);
    a.selectAll("text").attr("fill", "#000");
  });

  g.append("rect").attr("width", w).attr("height", h)
    .attr("fill", "none").attr("stroke", "#000").attr("stroke-width", 2.5);

  // axis title
  var tt = g.append("text").attr("x", w / 2 + 8).attr("y", h + 72)
    .attr("text-anchor", "middle").attr("font-family", SERIF).attr("font-size", 40).attr("fill", "#000");
  tt.append("tspan").attr("font-style", "italic").text("\u03b8");
  tt.append("tspan").attr("font-size", 26).attr("font-weight", "bold").attr("dy", 7).text("c.m.");
  tt.append("tspan").attr("dy", -7).text(" [deg]");
});

// observable labels, e.g. iT11
var lab = svg.append("g").attr("font-family", SERIF).attr("fill", "#000");
labels.forEach(function (l) {
  if (l.i) lab.append("text").attr("x", l.i).attr("y", l.ty).attr("font-size", 62)
    .attr("font-style", "italic").text("i");
  lab.append("text").attr("x", l.tx).attr("y", l.ty).attr("font-size", 62)
    .attr("font-style", "italic").text("T");
  lab.append("text").attr("x", l.sx).attr("y", l.sy).attr("font-size", 46).text(l.sub);
});
energies.forEach(function (e) {
  lab.append("text").attr("x", e.x).attr("y", e.y).attr("font-size", 68)
    .attr("text-anchor", e.a).text(e.t);
});

// ---- overlay note box ----
var box = svg.append("g");
box.append("rect").attr("x", 299).attr("y", 152).attr("width", 2179).attr("height", 883)
  .attr("fill", "#F2921E").attr("stroke", "#000").attr("stroke-width", 10)
  .attr("filter", "url(#shadow)");

var note = box.append("g").attr("font-family", SANS).attr("font-size", 96).attr("fill", "#000");
var l1 = note.append("text").attr("x", 373).attr("y", 282);
l1.append("tspan").text("At lower energy ( ");
l1.append("tspan").attr("font-size", 74).text("\u2266");
l1.append("tspan").text(" 135 MeV/A)");

var l2 = note.append("text").attr("x", 373).attr("y", 520);
l2.append("tspan").attr("font-style", "italic").text("iT");
l2.append("tspan").attr("font-size", 62).attr("dy", 8).text("11");
l2.append("tspan").attr("dy", -8).text(",");
l2.append("tspan").attr("font-style", "italic").text("T");
l2.append("tspan").attr("font-size", 62).attr("dy", 8).text("20");
note.append("text").attr("x", 700).attr("y", 520).text(": well described by adding 3NFs.");

var l3 = note.append("text").attr("x", 400).attr("y", 750);
l3.append("tspan").attr("font-style", "italic").text("T");
l3.append("tspan").attr("font-size", 62).attr("dy", 8).text("21");
l3.append("tspan").attr("dy", -8).text(",");
l3.append("tspan").attr("font-style", "italic").text("T");
l3.append("tspan").attr("font-size", 62).attr("dy", 8).text("22");
note.append("text").attr("x", 704).attr("y", 750).text(": the calc. based on 2NFs already show");
note.append("text").attr("x", 749).attr("y", 863).text("a moderate agreement with the data.");
note.append("text").attr("x", 749).attr("y", 977).text("(3NFs effects cause discrepancies)");
</script>
</body>
</html>
